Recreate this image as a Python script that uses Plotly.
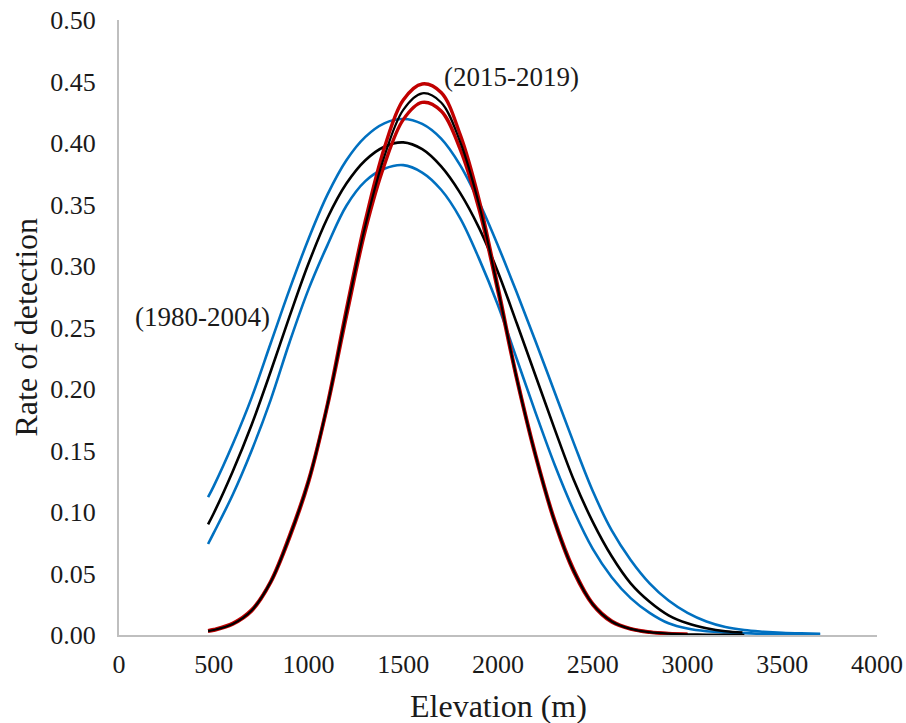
import plotly.graph_objects as go

# Elevation (m) sample points
elev_1980 = [470, 500, 600, 700, 800, 900, 1000, 1100, 1200, 1300, 1400, 1500, 1600, 1700,
             1800, 1900, 2000, 2100, 2200, 2300, 2400, 2500, 2600, 2700, 2800, 2900, 3000,
             3100, 3200, 3300, 3400, 3500, 3600, 3700]
blue_upper_1980 = [0.112, 0.121, 0.155, 0.193, 0.237, 0.281, 0.322, 0.358, 0.386, 0.405, 0.416,
                   0.4195, 0.4155, 0.4035, 0.382, 0.352, 0.3165, 0.278, 0.238, 0.197, 0.156,
                   0.117, 0.085, 0.061, 0.042, 0.028, 0.018, 0.011, 0.0065, 0.004, 0.0027,
                   0.0018, 0.0013, 0.001]
blue_lower_1980 = [0.074, 0.083, 0.114, 0.150, 0.191, 0.238, 0.281, 0.317, 0.349, 0.369, 0.379,
                   0.382, 0.376, 0.362, 0.339, 0.306, 0.268, 0.224, 0.180, 0.138, 0.101, 0.070,
                   0.047, 0.030, 0.018, 0.0095, 0.0052, 0.003, 0.002, 0.0015, 0.001, 0.0008,
                   0.0006, 0.0005]
elev_1980_mean = [470, 500, 600, 700, 800, 900, 1000, 1100, 1200, 1300, 1400, 1500, 1600, 1700,
                  1800, 1900, 2000, 2100, 2200, 2300, 2400, 2500, 2600, 2700, 2800, 2900, 3000,
                  3100, 3200, 3290]
mean_1980 = [0.090, 0.099, 0.133, 0.171, 0.214, 0.259, 0.302, 0.339, 0.367, 0.386, 0.397, 0.4005,
             0.395, 0.381, 0.3595, 0.331, 0.295, 0.253, 0.210, 0.167, 0.126, 0.092, 0.064, 0.042,
             0.027, 0.016, 0.0095, 0.0055, 0.003, 0.002]

elev_2015 = [470, 500, 600, 700, 800, 900, 1000, 1100, 1200, 1300, 1400, 1500, 1600, 1700,
             1800, 1900, 2000, 2100, 2200, 2300, 2400, 2500, 2600, 2700, 2800, 2900, 3000]
red_upper_2015 = [0.0035, 0.0045, 0.0095, 0.0205, 0.0435, 0.081, 0.126, 0.188, 0.265, 0.337, 0.396,
                  0.435, 0.448, 0.441, 0.407, 0.354, 0.283, 0.209, 0.146, 0.093, 0.053, 0.0255,
                  0.0115, 0.0052, 0.0025, 0.0012, 0.0006]
red_lower_2015 = [0.003, 0.0038, 0.0088, 0.0195, 0.0425, 0.079, 0.124, 0.186, 0.259, 0.329, 0.382,
                  0.419, 0.433, 0.426, 0.395, 0.346, 0.279, 0.207, 0.144, 0.091, 0.051, 0.0245,
                  0.0105, 0.0048, 0.0022, 0.001, 0.0005]
elev_2015_mean = [470, 500, 600, 700, 800, 900, 1000, 1100, 1200, 1300, 1400, 1500, 1600, 1700,
                  1800, 1900, 2000, 2100, 2200, 2300, 2400, 2500, 2600, 2700, 2800, 2900, 3000,
                  3100, 3200, 3300]
mean_2015 = [0.0032, 0.0041, 0.009, 0.020, 0.043, 0.080, 0.125, 0.187, 0.262, 0.333, 0.389, 0.427,
             0.4404, 0.433, 0.401, 0.350, 0.281, 0.208, 0.145, 0.092, 0.052, 0.025, 0.011, 0.005,
             0.0023, 0.0011, 0.0006, 0.0004, 0.0003, 0.0002]

x_ticks = [0, 500, 1000, 1500, 2000, 2500, 3000, 3500, 4000]
y_ticks = [0.00, 0.05, 0.10, 0.15, 0.20, 0.25, 0.30, 0.35, 0.40, 0.45, 0.50]

BLUE = "#0070C0"
RED = "#C00000"
BLACK = "#000000"
FONT = "Liberation Serif"
TXT = "#1a1a1a"

fig = go.Figure()


def add(x, y, color, w=2.6):
    fig.add_trace(go.Scatter(x=x, y=y, mode="lines",
                             line=dict(color=color, width=w, shape="spline", smoothing=1.0),
                             hoverinfo="skip", showlegend=False))


add(elev_1980, blue_upper_1980, BLUE)
add(elev_1980, blue_lower_1980, BLUE)
add(elev_1980_mean, mean_1980, BLACK)
add(elev_2015, red_upper_2015, RED, 3.4)
add(elev_2015, red_lower_2015, RED, 3.4)
add(elev_2015_mean, mean_2015, BLACK, 2.2)

fig.add_annotation(x=440, y=0.2585, text="(1980-2004)", showarrow=False,
                   font=dict(family=FONT, size=27, color=TXT))
fig.add_annotation(x=2069, y=0.4537, text="(2015-2019)", showarrow=False,
                   font=dict(family=FONT, size=27, color=TXT))

fig.add_annotation(xref="paper", yref="paper", x=0.5, y=0, yanchor="middle", yshift=-71,
                   text="Elevation (m)", showarrow=False,
                   font=dict(family=FONT, size=32, color=TXT))
fig.add_annotation(xref="paper", yref="paper", x=0, y=0.5, xanchor="center", yanchor="middle",
                   xshift=-94, textangle=-90,
                   text="Rate of detection", showarrow=False,
                   font=dict(family=FONT, size=32, color=TXT))

fig.update_layout(
    width=906, height=723,
    margin=dict(l=119, r=29, t=20, b=88, autoexpand=False),
    paper_bgcolor="white", plot_bgcolor="white",
    font=dict(family=FONT, size=26, color=TXT),
)
fig.update_xaxes(range=[0, 4000], tickvals=x_ticks, ticktext=[str(v) for v in x_ticks],
                 showgrid=False, zeroline=False, showline=True, linecolor="#BFBFBF",
                 linewidth=2, ticks="", layer="below traces", ticklabelstandoff=5,
                 automargin=False, ticklabeloverflow="allow")
fig.update_yaxes(range=[0, 0.5], tickvals=y_ticks, ticktext=[f"{v:.2f}" for v in y_ticks],
                 showgrid=False, zeroline=False, showline=True, linecolor="#BFBFBF",
                 linewidth=2, ticks="", layer="below traces", ticklabelstandoff=16,
                 automargin=False, ticklabeloverflow="allow")

# remove the default page margin so the 906x723 figure fills the window exactly
fig.write_html("out.html", config={"displayModeBar": False},
               post_script="document.body.style.margin='0';document.body.style.overflow='hidden';")
